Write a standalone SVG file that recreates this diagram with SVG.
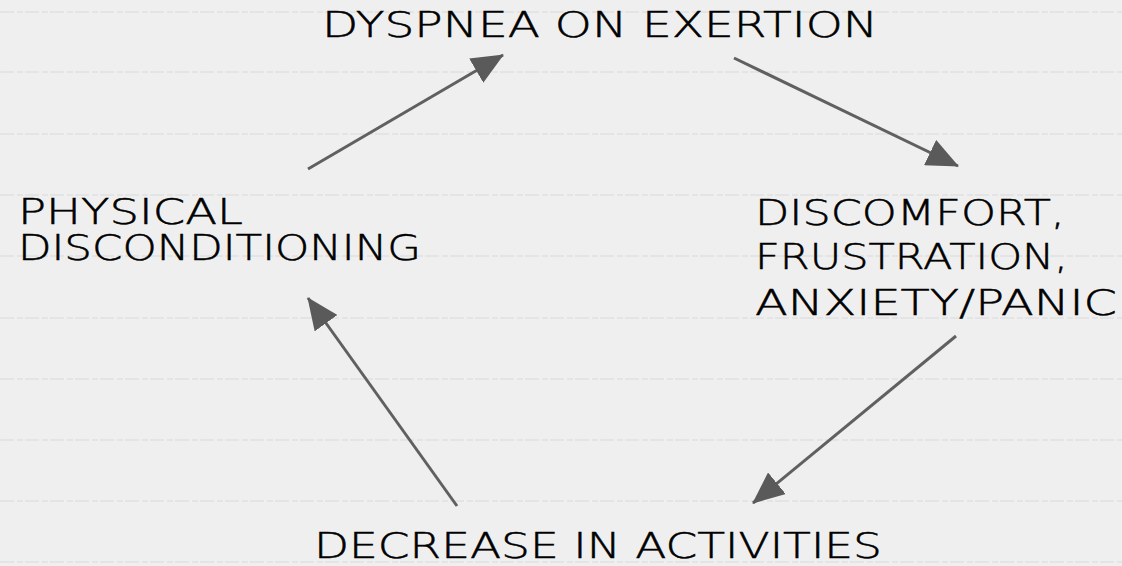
<svg xmlns="http://www.w3.org/2000/svg" width="1122" height="566" viewBox="0 0 1122 566">
  <style>
    .bg { fill: #efefef; }
    .rule { stroke: #dadada; stroke-width: 1.2; stroke-dasharray: 14 3 6 2; }
    .lbl { font-family: "DejaVu Sans", "Liberation Sans", sans-serif; font-weight: 200; font-size: 35px; fill: #000; stroke: #000; stroke-width: 0.5; text-transform: uppercase; }
    .conn { stroke: #606060; stroke-width: 3; fill: none; marker-end: url(#head); }
  </style>
  <defs>
    <marker id="head" markerUnits="userSpaceOnUse" markerWidth="32" markerHeight="28" viewBox="0 0 32 28" refX="31" refY="14" orient="auto">
      <path d="M0,0 L32,14 L0,28 Z" fill="#5a5a5a"/>
    </marker>
  </defs>
  <rect class="bg" x="0" y="0" width="1122" height="566"/>
  <g id="rules">
    <line class="rule" x1="0" y1="12" x2="1122" y2="12"/>
    <line class="rule" x1="0" y1="72" x2="1122" y2="72"/>
    <line class="rule" x1="0" y1="134" x2="1122" y2="134"/>
    <line class="rule" x1="0" y1="195" x2="1122" y2="195"/>
    <line class="rule" x1="0" y1="256" x2="1122" y2="256"/>
    <line class="rule" x1="0" y1="318" x2="1122" y2="318"/>
    <line class="rule" x1="0" y1="379" x2="1122" y2="379"/>
    <line class="rule" x1="0" y1="440" x2="1122" y2="440"/>
    <line class="rule" x1="0" y1="501" x2="1122" y2="501"/>
    <line class="rule" x1="0" y1="562" x2="1122" y2="562"/>
  </g>
  <g id="connectors">
    <line class="conn" x1="308" y1="169" x2="503" y2="55"/>
    <line class="conn" x1="734" y1="58" x2="958" y2="166"/>
    <line class="conn" x1="956" y1="336" x2="753" y2="503"/>
    <line class="conn" x1="457" y1="506" x2="308" y2="298"/>
  </g>
  <g id="node-dyspnea">
    <text class="lbl" x="322" y="37" textLength="556" lengthAdjust="spacingAndGlyphs">Dyspnea on exertion</text>
  </g>
  <g id="node-discomfort">
    <text class="lbl" x="755" y="225" textLength="310" lengthAdjust="spacingAndGlyphs">Discomfort,</text>
    <text class="lbl" x="755" y="269" textLength="313" lengthAdjust="spacingAndGlyphs">Frustration,</text>
    <text class="lbl" x="755" y="315" textLength="362" lengthAdjust="spacingAndGlyphs">anxiety/Panic</text>
  </g>
  <g id="node-decrease">
    <text class="lbl" x="314" y="558" textLength="568" lengthAdjust="spacingAndGlyphs">Decrease in activities</text>
  </g>
  <g id="node-physical">
    <text class="lbl" x="18" y="224" textLength="225" lengthAdjust="spacingAndGlyphs">Physical</text>
    <text class="lbl" x="18" y="260" textLength="403" lengthAdjust="spacingAndGlyphs">Disconditioning</text>
  </g>
</svg>
